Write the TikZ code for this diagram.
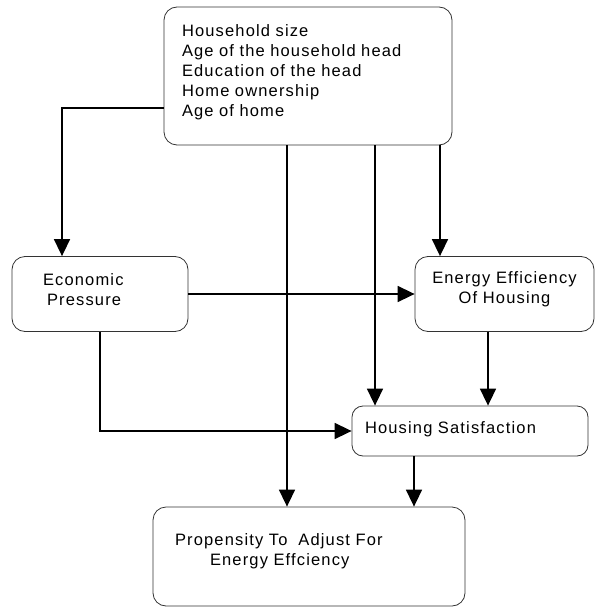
\documentclass[tikz,border=0pt]{standalone}
\usepackage{fontspec}
\setmainfont{Liberation Sans}[LetterSpace=7]
\usetikzlibrary{arrows.meta, calc}

\newcommand{\holgura}[1]{\rule[-#1]{0pt}{0pt}}

\begin{document}
\begin{tikzpicture}[
  x=1pt, y=-1pt,
  font=\fontsize{16.5}{20}\selectfont,
  caja/.style={rectangle, rounded corners=13pt, draw=black!80, line width=0.8pt,
               inner ysep=0pt},
  fl/.style={-{Triangle[length=17pt, width=16pt]}, line width=1.6pt, black}
]
\useasboundingbox (0,0) rectangle (595,607);

% ---- Caracteristicas del hogar ----
\node[caja, minimum width=288pt, minimum height=138pt, text width=252pt,
      inner xsep=18pt, align=left] (factores) at (308,76)
  {Household size\\Age of the household head\\Education of the head\\
   Home ownership\\Age of home\holgura{10pt}};

% ---- Nivel intermedio ----
\node[caja, minimum width=176pt, minimum height=75pt, text width=114pt,
      inner xsep=31pt, align=left] (presion) at (100,294)
  {Economic\\\hspace*{4pt}Pressure\holgura{9pt}};
\node[caja, minimum width=179pt, minimum height=75pt, align=center] (eficiencia) at (504.5,294)
  {Energy Efficiency\\Of Housing\holgura{12pt}};
\node[caja, rounded corners=11pt, minimum width=236pt, minimum height=50pt, text width=210pt,
      inner xsep=13pt, align=left] (satisfaccion) at (470,431)
  {Housing Satisfaction\holgura{6pt}};

% ---- Resultado ----
\node[caja, minimum width=312pt, minimum height=99pt, text width=268pt,
      inner xsep=22pt, align=left] (propension) at (309,556.5)
  {Propensity To\ \ Adjust For\\\hspace*{35pt}Energy Effciency\holgura{13pt}};

% ---- Flechas ----
\draw[fl] ($(factores.west)+(0,32)$) -| ($(presion.north)+(-38,0)$);
\draw[fl] ($(factores.south)+(-21,0)$) -- ($(propension.north)+(-22,0)$);
\draw[fl] ($(factores.south)+(67,0)$) -- ($(satisfaccion.north)+(-95,0)$);
\draw[fl] ($(factores.south)+(132,0)$) -- ($(eficiencia.north)+(-64.5,0)$);
\draw[fl] (presion.east) -- (eficiencia.west);
\draw[fl] (presion.south) |- (satisfaccion.west);
\draw[fl] ($(eficiencia.south)+(-16.5,0)$) -- ($(satisfaccion.north)+(18,0)$);
\draw[fl] ($(satisfaccion.south)+(-56,0)$) -- ($(propension.north)+(105,0)$);
\end{tikzpicture}
\end{document}
